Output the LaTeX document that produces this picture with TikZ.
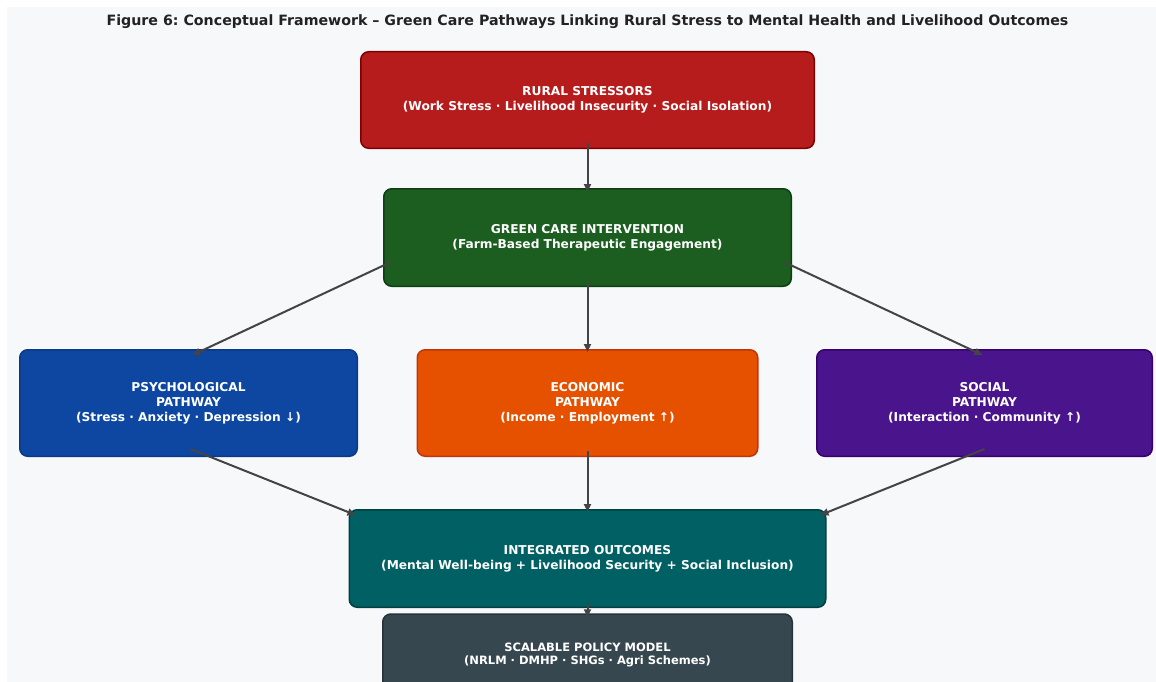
\documentclass[tikz,border=0pt]{standalone}
\usepackage{fontspec}
\setmainfont{DejaVu Sans}
\frenchspacing
\usetikzlibrary{arrows.meta,calc}
\definecolor{panel}{HTML}{F7F8FA}
\definecolor{titlegray}{HTML}{222222}
\definecolor{arrowgray}{HTML}{444444}
\definecolor{ruralred}{HTML}{B71C1C}
\definecolor{ruralredd}{HTML}{7F0000}
\definecolor{caregreen}{HTML}{1B5E20}
\definecolor{caregreend}{HTML}{0D3F12}
\definecolor{psychblue}{HTML}{0D47A1}
\definecolor{psychblued}{HTML}{0A3A86}
\definecolor{econorange}{HTML}{E65100}
\definecolor{econoranged}{HTML}{BF360C}
\definecolor{socialpurple}{HTML}{4A148C}
\definecolor{socialpurpled}{HTML}{38006B}
\definecolor{integteal}{HTML}{006064}
\definecolor{integteald}{HTML}{004040}
\definecolor{policyslate}{HTML}{37474F}
\definecolor{policyslated}{HTML}{263238}

\begin{document}
\begin{tikzpicture}[x=1pt,y=-1pt,
  box/.style={rounded corners=8pt,draw,line width=1.5pt,text=white,align=center,
    font=\fontsize{12.2}{15}\selectfont\bfseries,inner sep=0pt},
  link/.style={draw=arrowgray,line width=2pt,-{Triangle[length=8pt,width=7pt]}}]
\useasboundingbox (0,0) rectangle (1156,682);
\fill[panel] (7,7) rectangle (1156,682);
\node[text=titlegray,font=\fontsize{14.2}{16}\selectfont\bfseries] (title) at (587.5,22)
  {Figure 6: Conceptual Framework – Green Care Pathways Linking Rural Stress to Mental Health and Livelihood Outcomes};

\node[box,fill=ruralred,draw=ruralredd,minimum width=453.5pt,minimum height=96.5pt] (rural) at (587.5,100)
  {RURAL STRESSORS\\(Work Stress · Livelihood Insecurity · Social Isolation)};
\node[box,fill=caregreen,draw=caregreend,minimum width=407.5pt,minimum height=97.5pt] (green) at (587.5,237.5)
  {GREEN CARE INTERVENTION\\(Farm-Based Therapeutic Engagement)};
\node[box,fill=psychblue,draw=psychblued,minimum width=337.5pt,minimum height=106.5pt] (psych) at (188.5,403)
  {PSYCHOLOGICAL\\PATHWAY\\(Stress · Anxiety · Depression ↓)};
\node[box,fill=econorange,draw=econoranged,minimum width=340.5pt,minimum height=106.5pt] (econ) at (587.5,403)
  {ECONOMIC\\PATHWAY\\(Income · Employment ↑)};
\node[box,fill=socialpurple,draw=socialpurpled,minimum width=335.5pt,minimum height=106.5pt] (social) at (984.5,403)
  {SOCIAL\\PATHWAY\\(Interaction · Community ↑)};
\node[box,fill=integteal,draw=integteald,minimum width=476.5pt,minimum height=97.5pt] (integ) at (587.5,558.5)
  {INTEGRATED OUTCOMES\\(Mental Well-being + Livelihood Security + Social Inclusion)};
\node[box,fill=policyslate,draw=policyslated,minimum width=409.5pt,minimum height=82pt,
  font=\fontsize{11.5}{13}\selectfont\bfseries] (policy) at (587.5,655)
  {SCALABLE POLICY MODEL\\(NRLM · DMHP · SHGs · Agri Schemes)};

\draw[link] ($(rural.south)+(0,-6)$) -- ($(green.north)+(0,4)$);
\draw[link] ($(green.west)+(9,24)$) -- ($(psych.north)+(4,6)$);
\draw[link] ($(green.south)+(0,-6)$) -- ($(econ.north)+(0,3)$);
\draw[link] ($(green.east)+(-9,24)$) -- ($(social.north)+(-2,6)$);
\draw[link] ($(psych.south)+(2,-8)$) -- ($(integ.north west)+(7,6)$);
\draw[link] ($(econ.south)+(0,-6)$) -- ($(integ.north)+(0,3)$);
\draw[link] ($(social.south)+(0,-8)$) -- ($(integ.north east)+(-6,6)$);
\draw[link] ($(integ.south)+(0,-5)$) -- ($(policy.north)+(0,4)$);
\end{tikzpicture}
\end{document}
